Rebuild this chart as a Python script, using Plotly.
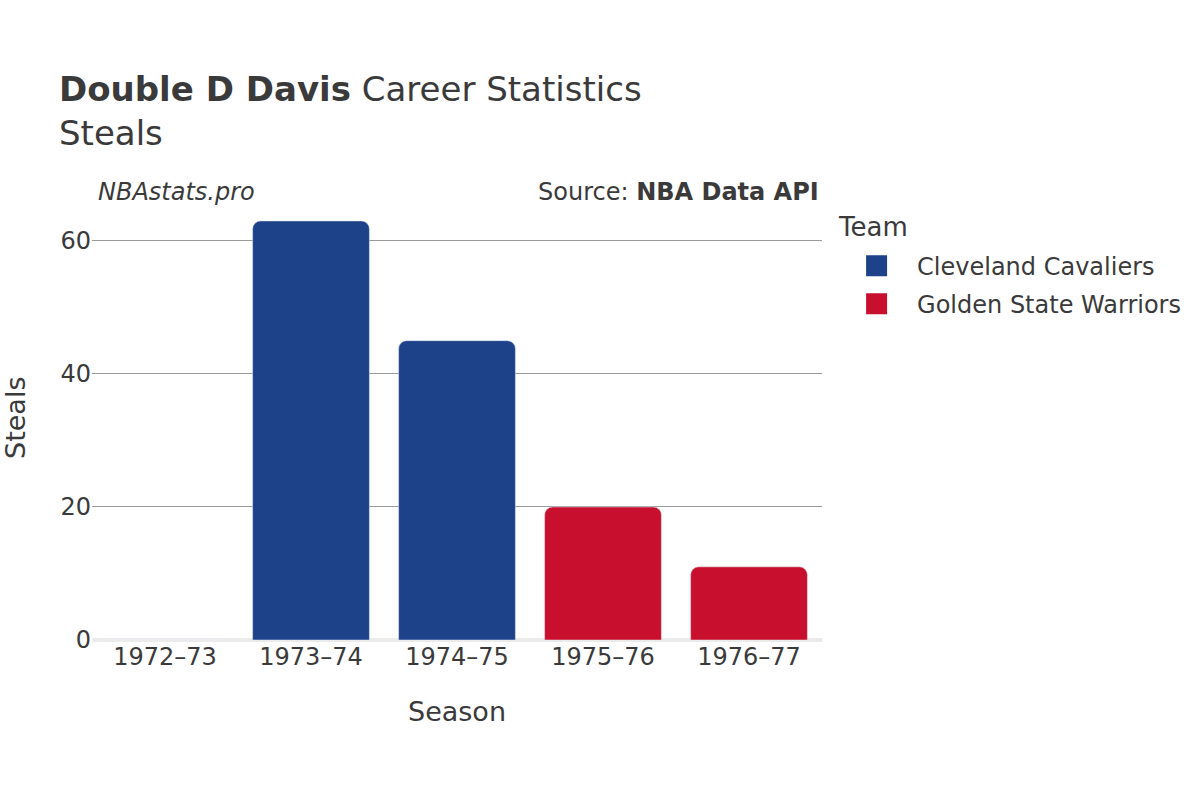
import plotly.graph_objects as go

seasons = ["1972–73", "1973–74", "1974–75", "1975–76", "1976–77"]
cavs_seasons = ["1972–73", "1973–74", "1974–75"]
cavs_steals = [0, 63, 45]
gsw_seasons = ["1975–76", "1976–77"]
gsw_steals = [20, 11]
y_ticks = [0, 20, 40, 60]
teams = ["Cleveland Cavaliers", "Golden State Warriors"]
team_colors = ["#1D428A", "#C8102E"]

TEXT = "#3a3a3a"
FONT = "DejaVu Sans"

fig = go.Figure()
fig.add_trace(go.Bar(x=cavs_seasons, y=cavs_steals, name=teams[0],
                     marker_color=team_colors[0], showlegend=False))
fig.add_trace(go.Bar(x=gsw_seasons, y=gsw_steals, name=teams[1],
                     marker_color=team_colors[1], showlegend=False))
# legend entries
for team, col in zip(teams, team_colors):
    fig.add_trace(go.Scatter(x=[None], y=[None], mode="markers", name=team,
                             legendgroup=team,
                             marker=dict(symbol="square", size=16, color=col,
                                         line=dict(color=col, width=5))))

fig.update_layout(
    width=1200, height=800,
    font=dict(family=FONT, size=24, color=TEXT),
    paper_bgcolor="white", plot_bgcolor="white",
    barmode="overlay", bargap=0.2, barcornerradius=8,
    margin=dict(l=92, r=378, t=199, b=160, autoexpand=False),
    title=dict(text="<b>Double D Davis</b> Career Statistics<br>Steals",
               x=59 / 1200, xanchor="left", xref="container",
               y=1 - 101 / 800, yanchor="top", yref="container",
               font=dict(size=34, color=TEXT, family=FONT)),
    xaxis=dict(categoryorder="array", categoryarray=seasons, showgrid=False,
               title=dict(text="Season", font=dict(size=27), standoff=32),
               tickfont=dict(size=24), ticks=""),
    yaxis=dict(range=[0, 66.3], tickvals=y_ticks, showgrid=True, gridcolor="#9a9a9a",
               gridwidth=1, zeroline=True, zerolinecolor="#ebebeb", zerolinewidth=4,
               tickfont=dict(size=24), ticks=""),
    legend=dict(font=dict(size=24),
                x=1.0193, xanchor="left", y=0.899, yanchor="top",
                itemwidth=71, traceorder="grouped", tracegroupgap=4),
    annotations=[
        dict(text="<i>NBAstats.pro</i>", x=4 / 730, y=(632 - 184) / 441, xref="paper",
             yref="paper", showarrow=False, xanchor="left", yanchor="middle",
             font=dict(size=24)),
        dict(text="Source: <b>NBA Data API</b>", x=729 / 730, y=(632 - 184) / 441,
             xref="paper", yref="paper", showarrow=False, xanchor="right",
             yanchor="middle", font=dict(size=24)),
        dict(text="Team", x=(828 - 84) / 730, y=(632 - 219) / 441, xref="paper",
             yref="paper", showarrow=False, xanchor="left", yanchor="middle",
             font=dict(size=26)),
        dict(text="Steals", x=(15 - 92) / 730, y=(640 - 418) / 441, xref="paper",
             yref="paper", showarrow=False, xanchor="center", yanchor="middle",
             textangle=-90, font=dict(size=27)),
    ],
)

fig.write_html("out.html", config={"displayModeBar": False},
               post_script="document.body.style.margin='0px';")
